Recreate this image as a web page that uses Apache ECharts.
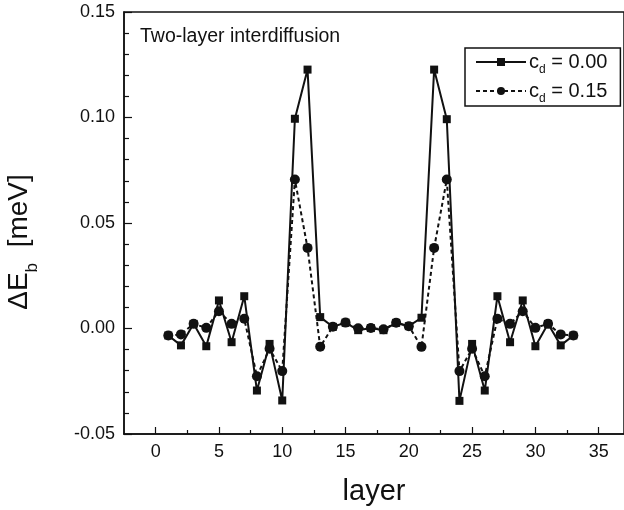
<!DOCTYPE html>
<html>
<head>
<meta charset="utf-8">
<script src="https://cdn.jsdelivr.net/npm/echarts@6/dist/echarts.min.js"></script>
<style>
  html, body { margin: 0; padding: 0; background: #fff; }
  #chart { width: 624px; height: 510px; }
</style>
</head>
<body>
<div id="chart"></div>
<script>
// Layer index along the stack
const layers = [1, 2, 3, 4, 5, 6, 7, 8, 9, 10, 11, 12, 13, 14, 15, 16, 17,
                18, 19, 20, 21, 22, 23, 24, 25, 26, 27, 28, 29, 30, 31, 32, 33];

// Binding-energy change per layer, c_d = 0.00
const dEb000 = [-0.0033, -0.0080, 0.0022, -0.0084, 0.0133, -0.0065, 0.0153, -0.0294,
                -0.0073, -0.0341, 0.0994, 0.1227, 0.0054, 0.0008, 0.0028, -0.0008,
                0.0002, -0.0008, 0.0027, 0.0011, 0.0051, 0.1227, 0.0992, -0.0343,
                -0.0073, -0.0294, 0.0153, -0.0065, 0.0133, -0.0084, 0.0022, -0.0080,
                -0.0033];

// Binding-energy change per layer, c_d = 0.15
const dEb015 = [-0.0033, -0.0028, 0.0022, 0.0003, 0.0082, 0.0022, 0.0046, -0.0226,
                -0.0096, -0.0202, 0.0706, 0.0382, -0.0086, 0.0008, 0.0028, 0.0001,
                0.0002, -0.0004, 0.0027, 0.0011, -0.0087, 0.0382, 0.0706, -0.0202,
                -0.0096, -0.0226, 0.0046, 0.0022, 0.0082, 0.0003, 0.0022, -0.0028,
                -0.0033];

const xMajorTicks = [0, 5, 10, 15, 20, 25, 30, 35];
const xMinorTicks = [2.5, 7.5, 12.5, 17.5, 22.5, 27.5, 32.5];

const seriesNames = ['c_d = 0.00', 'c_d = 0.15'];

const FONT = '"Liberation Sans", Arial, sans-serif';
const INK = '#111';

const chart = echarts.init(document.getElementById('chart'), null, { renderer: 'canvas' });

const pairs = (ys) => layers.map((x, i) => [x, ys[i]]);

chart.setOption({
  animation: false,
  backgroundColor: '#fff',
  textStyle: { fontFamily: FONT, color: INK },
  title: {
    text: 'Two-layer interdiffusion',
    left: 140,
    top: 27,
    padding: 0,
    textStyle: { fontFamily: FONT, fontSize: 19.5, fontWeight: 'normal', color: INK }
  },
  legend: {
    left: 465,
    top: 48,
    orient: 'vertical',
    padding: [4, 13, 1, 10],
    itemWidth: 50,
    itemHeight: 10,
    itemGap: 5,
    borderColor: INK,
    borderWidth: 1.5,
    borderRadius: 0,
    data: seriesNames,
    formatter: (name) => {
      const parts = name.split(' = ');
      return '{c|c}{d|d}{c| = ' + parts[1] + '}';
    },
    textStyle: {
      fontFamily: FONT,
      color: INK,
      padding: [0, 0, 0, -2],
      rich: {
        c: { fontFamily: FONT, fontSize: 20, color: INK, verticalAlign: 'middle', lineHeight: 28 },
        d: { fontFamily: FONT, fontSize: 12, color: INK, verticalAlign: 'bottom', lineHeight: 14 }
      }
    }
  },
  grid: {
    left: 124,
    right: 0,
    top: 12,
    bottom: 76,
    show: true,
    borderColor: INK,
    borderWidth: 1.5,
    backgroundColor: 'transparent',
    containLabel: false,
    outerBoundsMode: 'none'
  },
  xAxis: [
    {
      type: 'value',
      min: -2.5,
      max: 37,
      name: 'layer',
      nameLocation: 'middle',
      nameGap: 43,
      nameTextStyle: { fontFamily: FONT, fontSize: 29, color: INK },
      axisLine: { show: true, onZero: false, lineStyle: { color: INK, width: 1.5 } },
      axisTick: { show: true, inside: true, length: 7, customValues: xMajorTicks, lineStyle: { color: INK, width: 1.2 } },
      axisLabel: { show: true, customValues: xMajorTicks, margin: 9, fontFamily: FONT, fontSize: 18, color: INK },
      splitLine: { show: false }
    },
    {
      type: 'value',
      min: -2.5,
      max: 37,
      position: 'bottom',
      axisLine: { show: false, onZero: false },
      axisTick: { show: true, inside: true, length: 4, customValues: xMinorTicks, lineStyle: { color: INK, width: 1.2 } },
      axisLabel: { show: false },
      splitLine: { show: false }
    }
  ],
  yAxis: {
    type: 'value',
    min: -0.05,
    max: 0.15,
    interval: 0.05,
    name: '{t|ΔE}{s|b}{t|  [meV]}',
    nameLocation: 'middle',
    nameGap: 83,
    nameTextStyle: {
      fontFamily: FONT,
      color: INK,
      padding: [0, 38, 0, 0],
      rich: {
        t: { fontFamily: FONT, fontSize: 28, color: INK, verticalAlign: 'middle', lineHeight: 43 },
        s: { fontFamily: FONT, fontSize: 17, color: INK, verticalAlign: 'bottom', lineHeight: 17 }
      }
    },
    axisLine: { show: true, onZero: false, lineStyle: { color: INK, width: 1.5 } },
    axisTick: { show: true, inside: true, length: 8, lineStyle: { color: INK, width: 1.2 } },
    minorTick: { show: true, splitNumber: 5, length: 5, lineStyle: { color: INK, width: 1.2 } },
    axisLabel: {
      margin: 9,
      fontFamily: FONT,
      fontSize: 18,
      color: INK,
      formatter: (v) => v.toFixed(2)
    },
    splitLine: { show: false }
  },
  series: [
    {
      name: seriesNames[0],
      type: 'line',
      data: pairs(dEb000),
      symbol: 'rect',
      symbolSize: 8,
      itemStyle: { color: INK },
      lineStyle: { color: INK, width: 2, type: 'solid' },
      z: 2
    },
    {
      name: seriesNames[1],
      type: 'line',
      data: pairs(dEb015),
      symbol: 'circle',
      symbolSize: 10,
      itemStyle: { color: INK },
      lineStyle: { color: INK, width: 2, type: [4, 3] },
      z: 3
    }
  ]
});
</script>
</body>
</html>
